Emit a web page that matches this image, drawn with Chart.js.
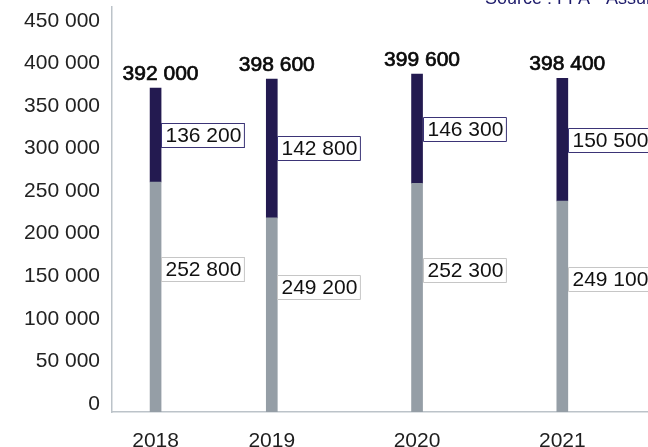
<!DOCTYPE html>
<html>
<head>
<meta charset="utf-8">
<script src="https://cdn.jsdelivr.net/npm/chart.js@4/dist/chart.umd.min.js"></script>
<style>
  html, body { margin: 0; padding: 0; background: #fff; overflow: hidden; width: 648px; height: 447px; }
  canvas { display: block; }
</style>
</head>
<body>
<canvas id="c" width="664" height="447"></canvas>
<script>
// ---- data ----
const years = ['2018', '2019', '2020', '2021'];
// bar segment heights as drawn in the picture
const lowerValues = [270000, 228000, 268500, 247700];
const upperValues = [110400, 163000, 128300, 144100];
// numbers printed on the chart
const lowerLabels = [252800, 249200, 252300, 249100];
const upperLabels = [136200, 142800, 146300, 150500];
const totalLabels = [392000, 398600, 399600, 398400];
const yTickValues = [0, 50000, 100000, 150000, 200000, 250000, 300000, 350000, 400000, 450000];
const sourceText = 'Source : FFA - Assurance';

// ---- layout (uneven spacing of the original) ----
const slotOf = [1, 5, 10, 15];
const slotCount = 19;

const fmt = n => String(n).replace(/\B(?=(\d{3})+(?!\d))/g, ' ');

const slotLabels = new Array(slotCount).fill('');
const lowerData = new Array(slotCount).fill(null);
const upperData = new Array(slotCount).fill(null);
const lowerText = new Array(slotCount).fill(null);
const upperText = new Array(slotCount).fill(null);
const totalText = new Array(slotCount).fill(null);
years.forEach((y, i) => {
  const s = slotOf[i];
  slotLabels[s] = y;
  lowerData[s] = lowerValues[i];
  upperData[s] = upperValues[i];
  lowerText[s] = fmt(lowerLabels[i]);
  upperText[s] = fmt(upperLabels[i]);
  totalText[s] = fmt(totalLabels[i]);
});

const FONT = '"Liberation Sans", Arial, Helvetica, sans-serif';
Chart.defaults.font.family = FONT;

const labelPlugin = {
  id: 'valueLabels',
  afterDatasetsDraw(chart) {
    const ctx = chart.ctx;
    const lowerMeta = chart.getDatasetMeta(0);
    const upperMeta = chart.getDatasetMeta(1);
    ctx.save();
    const drawBox = (txt, left, cy, border) => {
      ctx.font = '21px ' + FONT;
      const w = ctx.measureText(txt).width;
      const h = 24;
      const top = Math.round(cy - h / 2) + 0.5;
      const l = Math.round(left) + 0.5;
      ctx.fillStyle = '#ffffff';
      ctx.fillRect(l, top, w + 7, h);
      ctx.lineWidth = 1;
      ctx.strokeStyle = border;
      ctx.strokeRect(l, top, w + 7, h);
      ctx.fillStyle = '#111111';
      ctx.textAlign = 'left';
      ctx.textBaseline = 'middle';
      ctx.fillText(txt, l + 4, top + h / 2 + 1);
    };
    for (let i = 0; i < slotCount; i++) {
      if (lowerData[i] === null) continue;
      const lo = lowerMeta.data[i].getProps(['x', 'y', 'base', 'width'], true);
      const up = upperMeta.data[i].getProps(['x', 'y', 'base', 'width'], true);
      // upper (dark) segment label
      drawBox(upperText[i], up.x + up.width / 2, (up.y + up.base) / 2, '#3b3476');
      // lower (grey) segment label
      drawBox(lowerText[i], lo.x + lo.width / 2, (lo.y + lo.base) / 2 - 28, '#c6c6c6');
      // total above bar (medium weight look)
      ctx.font = '21px ' + FONT;
      ctx.fillStyle = '#0a0a0a';
      ctx.strokeStyle = '#0a0a0a';
      ctx.lineWidth = 0.7;
      ctx.lineJoin = 'round';
      ctx.textAlign = 'center';
      ctx.textBaseline = 'middle';
      ctx.fillText(totalText[i], up.x + 5, up.y - 14);
      ctx.strokeText(totalText[i], up.x + 5, up.y - 14);
    }
    // source line (cropped at top in original)
    ctx.font = '18px ' + FONT;
    ctx.fillStyle = '#1d1b6b';
    ctx.textAlign = 'left';
    ctx.textBaseline = 'alphabetic';
    ctx.fillText(sourceText, 485, 4);
    ctx.restore();
  }
};

new Chart(document.getElementById('c'), {
  type: 'bar',
  data: {
    labels: slotLabels,
    datasets: [
      { data: lowerData, backgroundColor: '#959ea6', barThickness: 11 },
      { data: upperData, backgroundColor: '#231a50', barThickness: 11 }
    ]
  },
  options: {
    responsive: false,
    animation: false,
    events: [],
    layout: { padding: { top: 7, left: 0, right: 0, bottom: 0 } },
    plugins: { legend: { display: false }, tooltip: { enabled: false }, title: { display: false } },
    scales: {
      x: {
        stacked: true,
        offset: true,
        grid: { display: false, drawTicks: false },
        border: { display: true, color: '#bcc3c9', width: 1.5 },
        ticks: {
          autoSkip: false, maxRotation: 0, minRotation: 0,
          padding: 17, color: '#1e1e1e', font: { size: 21 }
        },
        afterFit: s => { s.height = 35; s.paddingLeft = 0; s.paddingRight = 0; }
      },
      y: {
        stacked: true,
        min: 0,
        max: 475500,
        grid: { display: false, drawTicks: false },
        border: { display: true, color: '#bcc3c9', width: 1.5 },
        afterBuildTicks: s => { s.ticks = yTickValues.map(v => ({ value: v })); },
        ticks: {
          padding: 12,
          labelOffset: -8,
          color: '#222222',
          font: { size: 21 },
          callback: v => fmt(v)
        },
        afterFit: s => { s.width = 112; s.paddingTop = 0; s.paddingBottom = 0; }
      }
    }
  },
  plugins: [labelPlugin]
});
</script>
</body>
</html>
